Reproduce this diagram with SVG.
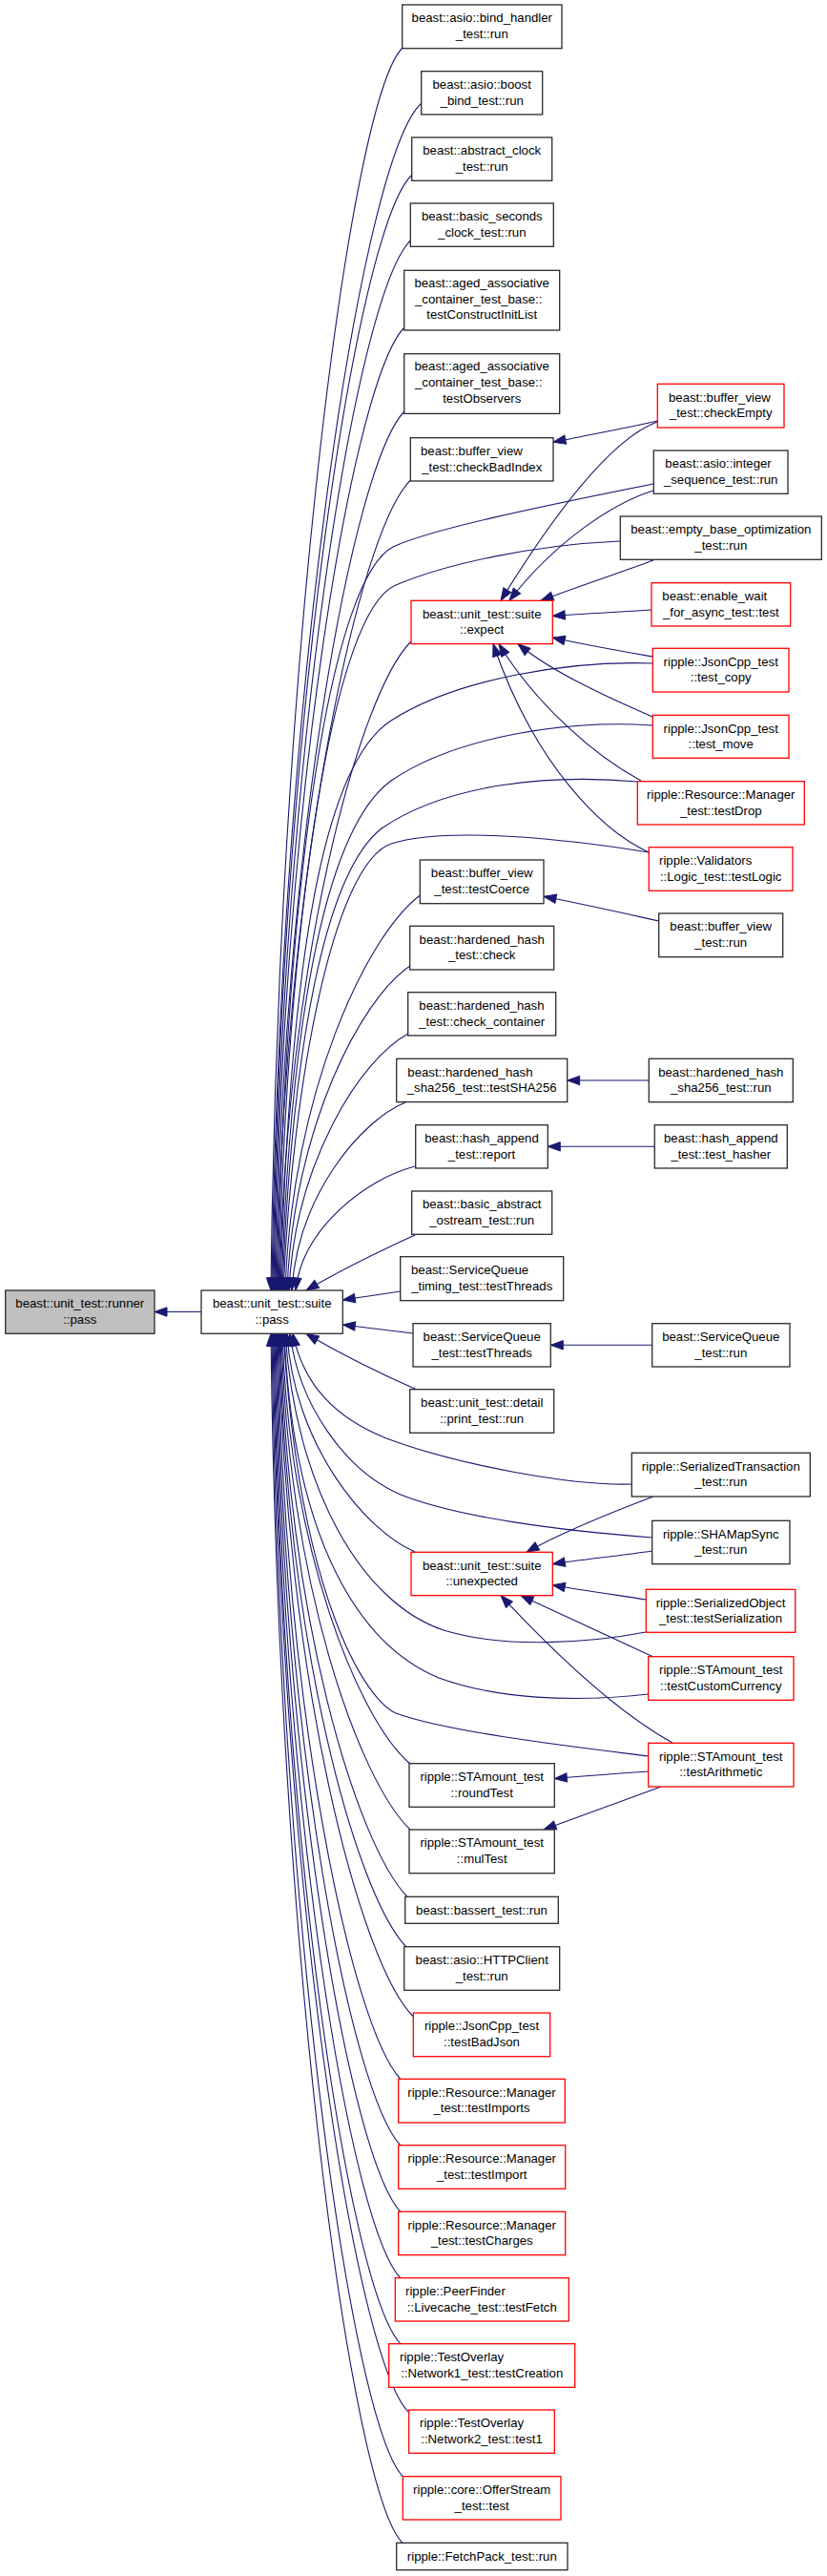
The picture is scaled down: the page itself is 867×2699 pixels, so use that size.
<svg xmlns="http://www.w3.org/2000/svg" width="867" height="2699" viewBox="0 0 867 2699">
<style>
rect{stroke-width:1.3}
.k{fill:#fff;stroke:#2a2a2a}
.r{fill:#fff;stroke:#ff0000}
.g{fill:#bfbfbf;stroke:#2a2a2a}
text{font-family:"Liberation Sans",Arial,Helvetica,sans-serif;font-size:13.2px;fill:#000}
.m{text-anchor:middle}
#edges path{fill:none;stroke:#191970;stroke-width:1.1;marker-end:url(#ah)}
</style>
<defs>
<marker id="ah" markerWidth="14" markerHeight="10" refX="13" refY="4.7" orient="auto" markerUnits="userSpaceOnUse" overflow="visible">
<path d="M0,0 L13,4.7 L0,9.4 z" fill="#191970" stroke="#191970" stroke-width="1"/>
</marker>
</defs>
<rect width="867" height="2699" fill="#fff"/>
<g id="edges">
<path d="M211,1374.5 L162,1374.5"/>
<path d="M422,50 C366.8,105 290.9,701 284,1352"/>
<path d="M442,108 C379.2,163 292.9,730 285,1352"/>
<path d="M432,183 C373.6,238 293.3,767.5 286,1352"/>
<path d="M430.5,252 C373.1,307 294.2,802 287,1352"/>
<path d="M424,343 C369.6,398 294.8,847.5 288,1352"/>
<path d="M424,431 C370,486 295.8,891.5 289,1352"/>
<path d="M430.5,503 C374.3,558 297,927.5 290,1352"/>
<path d="M685,507 C560,532 450,555 412,573 C350,605 300,900 291,1352"/>
<path d="M650,567 C560,571 470,590 415,613 C350,640 302,950 292,1352"/>
<path d="M431,672 C375.8,727 299.9,1012 293,1352"/>
<path d="M684,695 C600,692 480,710 410,755 C340,800 304,1000 294,1352"/>
<path d="M684,760 C600,754 480,770 410,818 C345,865 305,1050 295,1352"/>
<path d="M668,819 C580,811 470,820 400,868 C340,915 306,1100 296,1352"/>
<path d="M680,893 C600,880 470,865 410,884 C350,905 307,1130 297,1352"/>
<path d="M440.5,938 C383.9,980.3 306.1,1145.5 299,1352"/>
<path d="M430,1012 C378.4,1046 307.5,1182 301,1352"/>
<path d="M428,1083 C378,1109.9 309.3,1217.5 303,1352"/>
<path d="M425,1155 C377.4,1174.7 312,1253.5 306,1352"/>
<path d="M435,1222 C385,1234.7 316.3,1287 310,1352"/>
<path d="M435,1294 C400,1310 350,1335 321,1352"/>
<path d="M420,1353 C400,1356 380,1359 359.3,1362"/>
<path d="M433,1397 C410,1394 385,1391 359.3,1388"/>
<path d="M437,1456 C400,1440 360,1420 321,1397.5"/>
<path d="M662,1555 C600,1557 480,1535 405,1507 C350,1485 318,1450 307,1397.3"/>
<path d="M684,1611 C590,1604 480,1590 420,1566 C360,1540 313,1470 304,1397.3"/>
<path d="M435,1626 C381.4,1603 307.7,1511.5 301,1397.3"/>
<path d="M677,1710 C620,1721 530,1728 465,1708 C380,1680 310,1560 299,1397.3"/>
<path d="M680,1775 C600,1784 520,1780 460,1758 C380,1725 308,1620 298,1397.3"/>
<path d="M680,1840 C600,1830 470,1815 415,1795 C385,1782 315,1680 297,1397.3"/>
<path d="M430,1848 C376.4,1802.9 302.7,1622.5 296,1397.3"/>
<path d="M430,1917 C376,1865 301.8,1657 295,1397.3"/>
<path d="M427,1987.3 C373.8,1932.3 300.7,1692 294,1397.3"/>
<path d="M426,2040 C372.8,1985 299.7,1718.5 293,1397.3"/>
<path d="M433.5,2113 C376.9,2058 299.1,1755 292,1397.3"/>
<path d="M420,2178.5 C368.4,2123.5 297.5,1787.8 291,1397.3"/>
<path d="M420,2248 C368,2193 296.5,1822.5 290,1397.3"/>
<path d="M420,2317.5 C367.6,2262.5 295.6,1857 289,1397.3"/>
<path d="M420,2387 C367.2,2332 294.6,1892 288,1397.3"/>
<path d="M420,2455.7 C366.8,2400.7 293.7,1926.4 287,1397.3"/>
<path d="M429,2528 C371.8,2473 293.2,1962.5 286,1397.3"/>
<path d="M423,2595.5 C367.8,2540.5 291.9,1996.3 285,1397.3"/>
<path d="M422,2664.3 C366.8,2609.3 290.9,2030.7 284,1397.3"/>
<path d="M689,441 C660,448 615,456 580,463.3"/>
<path d="M689,442 C640,460 580,540 525,629.3"/>
<path d="M685,514 C640,528 580,570 534,629.3"/>
<path d="M685,587 C650,600 605,615 567,629.3"/>
<path d="M683,639 C650,641 610,643 579.3,645.5"/>
<path d="M684,688 C650,682 610,675 579.3,668"/>
<path d="M684,751 C640,732 580,705 543,674.7"/>
<path d="M672,818 C620,790 560,735 523,674.7"/>
<path d="M680,893 C630,870 560,800 517,674.7"/>
<path d="M691,965 C650,956 610,947 570,939.3"/>
<path d="M680.3,1132 L594.7,1132"/>
<path d="M686.3,1201.3 L574.3,1201.3"/>
<path d="M683.7,1409.3 L577.3,1409.3"/>
<path d="M685,1568 C640,1585 590,1605 552,1626.3"/>
<path d="M684,1625 C650,1630 610,1634 579.3,1638.7"/>
<path d="M677,1676 C645,1671 610,1666 579.3,1660.7"/>
<path d="M685,1736 C640,1715 590,1692 546,1671.7"/>
<path d="M705,1826 C640,1790 570,1720 525,1671.7"/>
<path d="M680,1856 C650,1858 610,1861 581.3,1863.5"/>
<path d="M693,1872 C650,1888 610,1902 570,1917"/>
</g>
<g id="runner"><rect class="g" x="5.7" y="1352" width="156.3" height="45.3"/><text class="m" x="83.8" y="1370.3">beast::unit_test::runner</text><text class="m" x="83.8" y="1387">::pass</text></g>
<g id="pass"><rect class="k" x="211" y="1352" width="148.3" height="45.3"/><text class="m" x="285.2" y="1370.3">beast::unit_test::suite</text><text class="m" x="285.2" y="1387">::pass</text></g>
<g id="bind_handler"><rect class="k" x="421.7" y="5" width="167.3" height="45.7"/><text class="m" x="505.3" y="23.3">beast::asio::bind_handler</text><text class="m" x="505.3" y="40">_test::run</text></g>
<g id="boost_bind"><rect class="k" x="441.7" y="74.7" width="127" height="45.3"/><text class="m" x="505.2" y="93">beast::asio::boost</text><text class="m" x="505.2" y="109.7">_bind_test::run</text></g>
<g id="abstract_clock"><rect class="k" x="431.7" y="144" width="147" height="45.3"/><text class="m" x="505.2" y="162.3">beast::abstract_clock</text><text class="m" x="505.2" y="179">_test::run</text></g>
<g id="basic_seconds"><rect class="k" x="430.3" y="213" width="150" height="45.3"/><text class="m" x="505.3" y="231.3">beast::basic_seconds</text><text class="m" x="505.3" y="248">_clock_test::run</text></g>
<g id="aged_init"><rect class="k" x="423.7" y="283.3" width="163" height="62.7"/><text class="m" x="505.2" y="301">beast::aged_associative</text><text x="435" y="317.7">_container_test_base::</text><text class="m" x="505.2" y="334.4">testConstructInitList</text></g>
<g id="aged_obs"><rect class="k" x="423.7" y="370.7" width="163" height="62.7"/><text class="m" x="505.2" y="388.4">beast::aged_associative</text><text x="435" y="405.1">_container_test_base::</text><text class="m" x="505.2" y="421.8">testObservers</text></g>
<g id="checkBadIndex"><rect class="k" x="430.3" y="458.7" width="149.7" height="45.3"/><text x="441" y="477">beast::buffer_view</text><text class="m" x="505.2" y="493.7">_test::checkBadIndex</text></g>
<g id="expect"><rect class="r" x="431" y="629.3" width="148.3" height="45.3"/><text class="m" x="505.2" y="647.6">beast::unit_test::suite</text><text class="m" x="505.2" y="664.3">::expect</text></g>
<g id="testCoerce"><rect class="k" x="440.3" y="901" width="129.7" height="45.7"/><text class="m" x="505.2" y="919.3">beast::buffer_view</text><text class="m" x="505.2" y="936">_test::testCoerce</text></g>
<g id="hh_check"><rect class="k" x="429.7" y="970.3" width="151" height="45.7"/><text class="m" x="505.2" y="988.6">beast::hardened_hash</text><text class="m" x="505.2" y="1005.3">_test::check</text></g>
<g id="hh_check_container"><rect class="k" x="427.7" y="1039.7" width="155" height="45.3"/><text x="439.3" y="1058">beast::hardened_hash</text><text class="m" x="505.2" y="1074.7">_test::check_container</text></g>
<g id="testSHA256"><rect class="k" x="415.7" y="1109.3" width="179" height="45.3"/><text x="427.3" y="1127.6">beast::hardened_hash</text><text class="m" x="505.2" y="1144.3">_sha256_test::testSHA256</text></g>
<g id="report"><rect class="k" x="435.7" y="1178.7" width="138.6" height="45.3"/><text class="m" x="505" y="1197">beast::hash_append</text><text class="m" x="505" y="1213.7">_test::report</text></g>
<g id="basic_abstract_ostream"><rect class="k" x="431.7" y="1248" width="147" height="45.3"/><text class="m" x="505.2" y="1266.3">beast::basic_abstract</text><text class="m" x="505.2" y="1283">_ostream_test::run</text></g>
<g id="sq_timing"><rect class="k" x="419.7" y="1316.7" width="171" height="46"/><text x="431" y="1335">beast::ServiceQueue</text><text class="m" x="505.2" y="1351.7">_timing_test::testThreads</text></g>
<g id="sq_testThreads"><rect class="k" x="433" y="1386.7" width="144.3" height="45.3"/><text class="m" x="505.2" y="1405">beast::ServiceQueue</text><text class="m" x="505.2" y="1421.7">_test::testThreads</text></g>
<g id="print_test"><rect class="k" x="429.7" y="1455.7" width="151" height="45.6"/><text class="m" x="505.2" y="1474">beast::unit_test::detail</text><text class="m" x="505.2" y="1490.7">::print_test::run</text></g>
<g id="unexpected"><rect class="r" x="431" y="1626.3" width="148.3" height="45.4"/><text class="m" x="505.2" y="1644.6">beast::unit_test::suite</text><text class="m" x="505.2" y="1661.3">::unexpected</text></g>
<g id="roundTest"><rect class="k" x="429" y="1847.7" width="152.3" height="45.6"/><text class="m" x="505.2" y="1866">ripple::STAmount_test</text><text class="m" x="505.2" y="1882.7">::roundTest</text></g>
<g id="mulTest"><rect class="k" x="429" y="1917" width="152.3" height="45.7"/><text class="m" x="505.2" y="1935.3">ripple::STAmount_test</text><text class="m" x="505.2" y="1952">::mulTest</text></g>
<g id="bassert"><rect class="k" x="424.7" y="1987.3" width="160.6" height="28"/><text class="m" x="505" y="2005.6">beast::bassert_test::run</text></g>
<g id="HTTPClient"><rect class="k" x="423.7" y="2039.7" width="163" height="45.6"/><text class="m" x="505.2" y="2058">beast::asio::HTTPClient</text><text class="m" x="505.2" y="2074.7">_test::run</text></g>
<g id="testBadJson"><rect class="r" x="433.3" y="2109" width="143.4" height="45.7"/><text class="m" x="505" y="2127.3">ripple::JsonCpp_test</text><text class="m" x="505" y="2144">::testBadJson</text></g>
<g id="testImports"><rect class="r" x="417.7" y="2178.3" width="174.6" height="45.7"/><text class="m" x="505" y="2196.6">ripple::Resource::Manager</text><text class="m" x="505" y="2213.3">_test::testImports</text></g>
<g id="testImport"><rect class="r" x="417.7" y="2247.7" width="175" height="45.6"/><text class="m" x="505.2" y="2266">ripple::Resource::Manager</text><text class="m" x="505.2" y="2282.7">_test::testImport</text></g>
<g id="testCharges"><rect class="r" x="417.7" y="2317.3" width="175" height="45.4"/><text class="m" x="505.2" y="2335.6">ripple::Resource::Manager</text><text class="m" x="505.2" y="2352.3">_test::testCharges</text></g>
<g id="PeerFinder"><rect class="r" x="414.3" y="2386.7" width="182" height="45.3"/><text x="425" y="2405">ripple::PeerFinder</text><text class="m" x="505.3" y="2421.7">::Livecache_test::testFetch</text></g>
<g id="Network1"><rect class="r" x="407.7" y="2455.7" width="195" height="45.6"/><text x="419" y="2474">ripple::TestOverlay</text><text class="m" x="505.2" y="2490.7">::Network1_test::testCreation</text></g>
<g id="Network2"><rect class="r" x="428.7" y="2525" width="152.6" height="45.3"/><text x="440" y="2543.3">ripple::TestOverlay</text><text class="m" x="505" y="2560">::Network2_test::test1</text></g>
<g id="OfferStream"><rect class="r" x="422.3" y="2594.7" width="165.7" height="45.3"/><text class="m" x="505.2" y="2613">ripple::core::OfferStream</text><text class="m" x="505.2" y="2629.7">_test::test</text></g>
<g id="FetchPack"><rect class="k" x="415.7" y="2664.3" width="179.3" height="28.4"/><text class="m" x="505.3" y="2682.6">ripple::FetchPack_test::run</text></g>
<g id="checkEmpty"><rect class="r" x="689.3" y="402.3" width="132.7" height="45.7"/><text x="701" y="420.6">beast::buffer_view</text><text class="m" x="755.7" y="437.3">_test::checkEmpty</text></g>
<g id="integer_sequence"><rect class="k" x="685.3" y="472" width="140.7" height="45.3"/><text x="697.3" y="490.3">beast::asio::integer</text><text class="m" x="755.7" y="507">_sequence_test::run</text></g>
<g id="empty_base"><rect class="k" x="650.3" y="541" width="211" height="45.3"/><text class="m" x="755.8" y="559.3">beast::empty_base_optimization</text><text class="m" x="755.8" y="576">_test::run</text></g>
<g id="enable_wait"><rect class="r" x="683" y="610.7" width="145.7" height="45.3"/><text x="694.3" y="629">beast::enable_wait</text><text class="m" x="755.8" y="645.7">_for_async_test::test</text></g>
<g id="test_copy"><rect class="r" x="684.3" y="679.3" width="142.7" height="45.7"/><text class="m" x="755.7" y="697.6">ripple::JsonCpp_test</text><text class="m" x="755.7" y="714.3">::test_copy</text></g>
<g id="test_move"><rect class="r" x="684.3" y="749.3" width="142.7" height="45"/><text class="m" x="755.7" y="767.6">ripple::JsonCpp_test</text><text class="m" x="755.7" y="784.3">::test_move</text></g>
<g id="testDrop"><rect class="r" x="668.3" y="818.7" width="175" height="45.3"/><text class="m" x="755.8" y="837">ripple::Resource::Manager</text><text class="m" x="755.8" y="853.7">_test::testDrop</text></g>
<g id="Validators"><rect class="r" x="680.3" y="887.7" width="150.7" height="45.6"/><text x="691" y="906">ripple::Validators</text><text class="m" x="755.7" y="922.7">::Logic_test::testLogic</text></g>
<g id="buffer_view_run"><rect class="k" x="690.7" y="957" width="130" height="45.7"/><text class="m" x="755.7" y="975.3">beast::buffer_view</text><text class="m" x="755.7" y="992">_test::run</text></g>
<g id="sha256_run"><rect class="k" x="680.3" y="1109.3" width="151" height="45.4"/><text class="m" x="755.8" y="1127.6">beast::hardened_hash</text><text class="m" x="755.8" y="1144.3">_sha256_test::run</text></g>
<g id="test_hasher"><rect class="k" x="686.3" y="1178.7" width="139" height="45.3"/><text class="m" x="755.8" y="1197">beast::hash_append</text><text class="m" x="755.8" y="1213.7">_test::test_hasher</text></g>
<g id="sq_run"><rect class="k" x="683.7" y="1386.7" width="144.3" height="45.3"/><text class="m" x="755.8" y="1405">beast::ServiceQueue</text><text class="m" x="755.8" y="1421.7">_test::run</text></g>
<g id="SerializedTransaction"><rect class="k" x="662.3" y="1522.3" width="187" height="45.7"/><text class="m" x="755.8" y="1540.6">ripple::SerializedTransaction</text><text class="m" x="755.8" y="1557.3">_test::run</text></g>
<g id="SHAMapSync"><rect class="k" x="683.7" y="1593.3" width="144.3" height="45.4"/><text class="m" x="755.8" y="1611.6">ripple::SHAMapSync</text><text class="m" x="755.8" y="1628.3">_test::run</text></g>
<g id="SerializedObject"><rect class="r" x="677.3" y="1665.3" width="156.4" height="45"/><text class="m" x="755.5" y="1683.6">ripple::SerializedObject</text><text class="m" x="755.5" y="1700.3">_test::testSerialization</text></g>
<g id="testCustomCurrency"><rect class="r" x="679.7" y="1735.7" width="152.3" height="45.6"/><text x="691" y="1754">ripple::STAmount_test</text><text class="m" x="755.8" y="1770.7">::testCustomCurrency</text></g>
<g id="testArithmetic"><rect class="r" x="679.7" y="1826.3" width="152.3" height="45.7"/><text class="m" x="755.8" y="1844.6">ripple::STAmount_test</text><text class="m" x="755.8" y="1861.3">::testArithmetic</text></g>
</svg>
